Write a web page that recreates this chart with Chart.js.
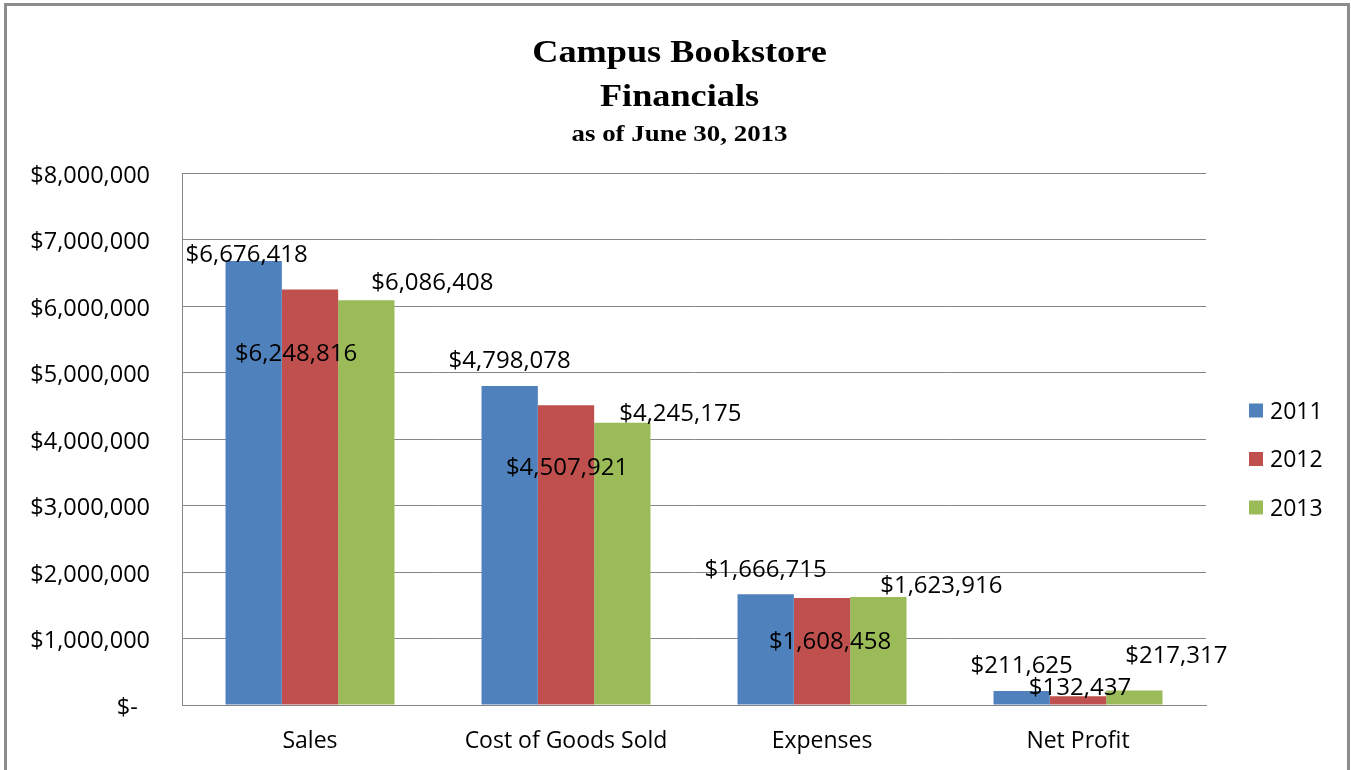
<!DOCTYPE html>
<html lang="en">
<head>
<meta charset="utf-8">
<title>Campus Bookstore Financials</title>
<script src="https://cdn.jsdelivr.net/npm/chart.js@4.4.1/dist/chart.umd.min.js"></script>
<style>
  html, body { margin: 0; padding: 0; background: #fff; overflow: hidden; }
  #wrap { position: relative; width: 1351px; height: 770px; }
  #frame { position: absolute; left: 4px; top: 3px; width: 1340px; height: 900px; border: 3px solid #8c8c8c; pointer-events: none; }
</style>
</head>
<body>
<div id="wrap">
  <canvas id="myChart" width="1351" height="770"></canvas>
  <div id="frame"></div>
</div>
<script>
const categories = ['Sales', 'Cost of Goods Sold', 'Expenses', 'Net Profit'];
const years = ['2011', '2012', '2013'];
const values2011 = [6676418, 4798078, 1666715, 211625];
const values2012 = [6248816, 4507921, 1608458, 132437];
const values2013 = [6086408, 4245175, 1623916, 217317];
const yMax = 8000000;
const yStep = 1000000;
const titleLines = ['Campus Bookstore', 'Financials'];
const subtitleText = 'as of June 30, 2013';

const colors = ['#4F81BD', '#C0504D', '#9BBB59'];
// the labels were dragged around by hand in the original, so keep per-bar nudges (dx, dy from bar top)
const labelOffsets = [
  [[-7, -8], [0, -26], [0, -26], [0, -26]],
  [[-14, 63], [1, 61], [8, 42], [2, -10]],
  [[66, -19], [58, -10], [63, -13], [42, -36]]
];

const font = '"Open Sans", "Liberation Sans", sans-serif';
const money = v => v === 0 ? '$-  ' : '$' + v.toLocaleString('en-US');

Chart.defaults.font.family = font;
Chart.defaults.font.size = 23;
Chart.defaults.color = '#000';

const titleDraw = {
  id: 'titleDraw',
  afterDraw(chart) {
    const ctx = chart.ctx;
    const cx = chart.width / 2 + 4;
    const line = (text, size, y) => {
      ctx.save();
      ctx.translate(cx, y);
      ctx.scale(1.17, 1);
      ctx.font = 'bold ' + size + 'px "Liberation Serif", serif';
      ctx.textAlign = 'center';
      ctx.textBaseline = 'alphabetic';
      ctx.fillStyle = '#000';
      ctx.fillText(text, 0, 0);
      ctx.restore();
    };
    line(titleLines[0], 31, 62);
    line(titleLines[1], 31, 106);
    line(subtitleText, 23, 141);
  }
};

const barLabels = {
  id: 'barLabels',
  afterDatasetsDraw(chart) {
    const ctx = chart.ctx;
    ctx.save();
    ctx.font = '24px ' + font;
    ctx.fillStyle = '#000';
    ctx.textAlign = 'center';
    ctx.textBaseline = 'alphabetic';
    chart.data.datasets.forEach((ds, di) => {
      chart.getDatasetMeta(di).data.forEach((bar, i) => {
        const off = labelOffsets[di][i];
        ctx.fillText(money(ds.data[i]), bar.x + off[0], bar.y + off[1] + 8.5);
      });
    });
    ctx.restore();
  }
};

const sideLegend = {
  id: 'sideLegend',
  afterDraw(chart) {
    const ctx = chart.ctx;
    const area = chart.chartArea;
    const mid = (area.top + area.bottom) / 2 + 20;
    ctx.save();
    ctx.font = '23px ' + font;
    ctx.textAlign = 'left';
    ctx.textBaseline = 'alphabetic';
    chart.data.datasets.forEach((ds, i) => {
      const cy = mid + (i - 1) * 48.5;
      ctx.fillStyle = ds.backgroundColor;
      ctx.fillRect(area.right + 43, cy - 7, 14, 14);
      ctx.fillStyle = '#000';
      ctx.fillText(ds.label, area.right + 64, cy + 8);
    });
    ctx.restore();
  }
};

const ctx = document.getElementById('myChart').getContext('2d');
new Chart(ctx, {
  type: 'bar',
  data: {
    labels: categories,
    datasets: [
      { label: years[0], data: values2011, backgroundColor: colors[0] },
      { label: years[1], data: values2012, backgroundColor: colors[1] },
      { label: years[2], data: values2013, backgroundColor: colors[2] }
    ]
  },
  options: {
    responsive: false,
    animation: false,
    layout: { padding: { top: 173, right: 145, left: 10, bottom: 0 } },
    datasets: { bar: { categoryPercentage: 0.66, barPercentage: 1 } },
    plugins: {
      legend: { display: false },
      title: { display: false },
      tooltip: { enabled: false }
    },
    scales: {
      x: {
        grid: { display: false, drawTicks: false },
        border: { display: true, color: '#868686', width: 1 },
        ticks: { padding: 23, color: '#000' },
        afterFit(s) { s.height = 65; }
      },
      y: {
        min: 0,
        max: yMax,
        grid: { color: '#868686', drawTicks: false },
        border: { display: true, color: '#868686', width: 1 },
        ticks: { stepSize: yStep, padding: 32, labelOffset: 3, color: '#000', font: { size: 23.5 }, callback: v => money(v) },
        afterFit(s) { s.width = 172; }
      }
    }
  },
  plugins: [titleDraw, barLabels, sideLegend]
});
</script>
</body>
</html>
